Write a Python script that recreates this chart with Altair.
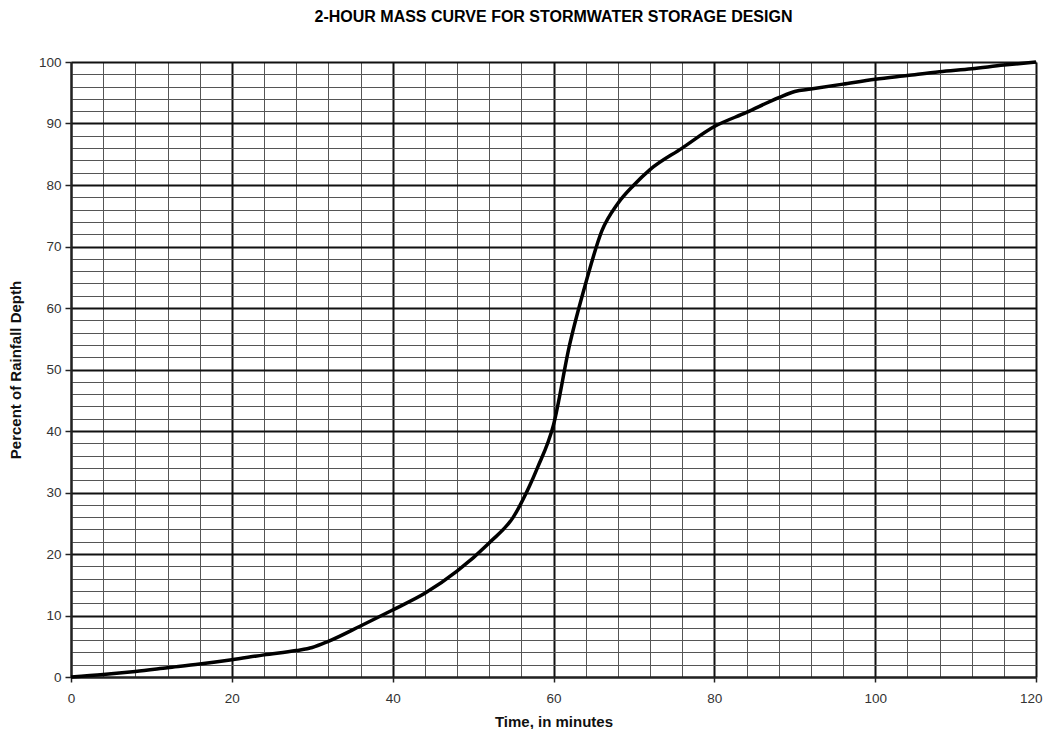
import altair as alt
import pandas as pd

# Time (minutes) and cumulative percent of rainfall depth
minutes = [0, 4, 8, 12, 16, 20, 24, 28, 30, 32, 36, 40, 44, 48, 52, 55, 57, 58,
           60, 62, 64, 66, 68, 70, 72, 76, 80, 84, 88, 90, 92, 96, 100, 104,
           108, 112, 116, 120]
percent = [0, 0.4, 0.9, 1.5, 2.1, 2.8, 3.6, 4.3, 4.8, 5.8, 8.3, 10.9, 13.6, 17.2,
           21.8, 26, 31, 34, 41, 54, 64, 72.5, 77, 80, 82.5, 86, 89.5, 91.8,
           94.2, 95.2, 95.6, 96.4, 97.2, 97.8, 98.4, 98.9, 99.5, 100]

x_ticks = list(range(0, 121, 4))
y_ticks = list(range(0, 101, 2))

title_text = "2-HOUR MASS CURVE FOR STORMWATER STORAGE DESIGN"
x_title = "Time, in minutes"
y_title = "Percent of Rainfall Depth"

df = pd.DataFrame({"t": minutes, "p": percent})

FONT = "Liberation Sans"

x_axis = alt.Axis(
    values=x_ticks,
    labelExpr="datum.value % 20 === 0 ? datum.label : ''",
    grid=True,
    gridColor=alt.condition("datum.value % 20 === 0", alt.value("#111111"), alt.value("#555555")),
    gridWidth=alt.condition("datum.value % 20 === 0", alt.value(2), alt.value(1)),
    gridOpacity=1,
    tickColor=alt.condition("datum.value % 20 === 0", alt.value("#222222"), alt.value("transparent")),
    tickSize=5,
    tickWidth=1.5,
    domainColor="#222222",
    domainWidth=2,
    labelFont=FONT,
    labelFontSize=13.5,
    labelColor="#333333",
    labelPadding=9,
    labelFlush=False,
    labelAlign=alt.condition("datum.value === 120", alt.value("right"), alt.value("center")),
    labelOffset=alt.condition("datum.value === 120", alt.value(6), alt.value(0)),
    title=x_title,
    titleFont=FONT,
    titleFontSize=15,
    titleFontWeight="bold",
    titleColor="#111111",
    titlePadding=10,
)

y_axis = alt.Axis(
    values=y_ticks,
    labelExpr="datum.value % 10 === 0 ? datum.label : ''",
    grid=True,
    gridColor=alt.condition("datum.value % 10 === 0", alt.value("#111111"), alt.value("#555555")),
    gridWidth=alt.condition("datum.value % 10 === 0", alt.value(2), alt.value(1)),
    gridOpacity=1,
    tickColor=alt.condition("datum.value % 10 === 0", alt.value("#222222"), alt.value("transparent")),
    tickSize=6,
    tickWidth=1.5,
    domainColor="#222222",
    domainWidth=2,
    labelFont=FONT,
    labelFontSize=13.5,
    labelColor="#333333",
    labelPadding=4,
    labelFlush=False,
    title=y_title,
    titleFont=FONT,
    titleFontSize=15,
    titleFontWeight="bold",
    titleColor="#111111",
    titlePadding=15,
)

chart = (
    alt.Chart(df)
    .mark_line(color="#000000", strokeWidth=3.5, interpolate="monotone")
    .encode(
        x=alt.X("t:Q", scale=alt.Scale(domain=[0, 120], nice=False), axis=x_axis),
        y=alt.Y("p:Q", scale=alt.Scale(domain=[0, 100], nice=False), axis=y_axis),
    )
    .properties(
        width=965,
        height=615,
        title=alt.TitleParams(
            text=title_text,
            font=FONT,
            fontSize=16,
            fontWeight="bold",
            color="#000000",
            anchor="middle",
            offset=30,
        ),
        autosize=alt.AutoSizeParams(type="none"),
        padding={"left": 63, "top": 54, "right": 9, "bottom": 52},
    )
    .configure_view(stroke=None)
    .configure(background="#ffffff")
)

chart.save("out.html", embed_options={"renderer": "svg", "actions": False})
